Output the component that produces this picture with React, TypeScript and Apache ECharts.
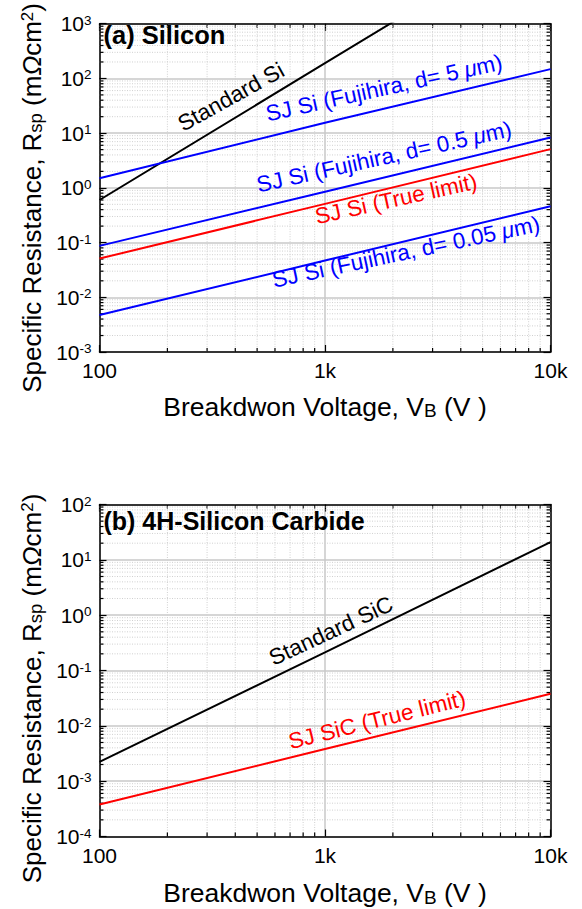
import React, { useEffect, useRef } from 'react';
import * as echarts from 'echarts';

// ---------- data ----------
const voltages = [100, 1000, 10000];
const xTickLabels = ['100', '1k', '10k'];
const yExpTop = ['-3', '-2', '-1', '0', '1', '2', '3'];
const yExpBottom = ['-4', '-3', '-2', '-1', '0', '1', '2'];

// (a) Silicon, R_sp in mΩcm²
const siStandard = [0.6, 190, 60000];
const siFujihira5 = [1.5, 15.5, 148];
const siFujihira05 = [0.087, 0.85, 8.3];
const siTrueLimit = [0.051, 0.51, 5.1];
const siFujihira005 = [0.00475, 0.047, 0.46];

// (b) 4H-SiC, R_sp in mΩcm²
const sicStandard = [0.00224, 0.212, 20.9];
const sicTrueLimit = [0.00038, 0.0038, 0.038];

const minorMultipliers = [2, 3, 4, 5, 6, 7, 8, 9];
const xDecades = [100, 1000];
const yDecadesTop = [1e-3, 1e-2, 1e-1, 1, 10, 100];
const yDecadesBottom = [1e-4, 1e-3, 1e-2, 1e-1, 1, 10];

const FONT = '"Liberation Sans", Arial, Helvetica, sans-serif';
const BLUE = '#0000ff';
const RED = '#ff0000';
const BLACK = '#000000';

const labelsTop = [
  { text: 'Standard Si', x: 231, y: 97, rot: 29, color: BLACK },
  { text: 'SJ Si (Fujihira, d= 5 {i|μ}m)', x: 384, y: 88, rot: 12.5, color: BLUE },
  { text: 'SJ Si (Fujihira, d= 0.5 {i|μ}m)', x: 384, y: 157, rot: 12.5, color: BLUE },
  { text: 'SJ Si (True limit)', x: 396, y: 199, rot: 12.5, color: RED },
  { text: 'SJ Si (Fujihira, d= 0.05 {i|μ}m)', x: 406, y: 252, rot: 12, color: BLUE },
];
const labelsBottom = [
  { text: 'Standard SiC', x: 331, y: 631, rot: 25, color: BLACK },
  { text: 'SJ SiC (True limit)', x: 377, y: 720, rot: 14, color: RED },
];

function pairs(ys: number[]) {
  return voltages.map((v, i) => [v, ys[i]]);
}

function minorList(decades: number[]) {
  const out: number[] = [];
  decades.forEach((d) => minorMultipliers.forEach((m) => out.push(d * m)));
  return out;
}

const GRID_MINOR = '#d0d0d0';

function minorXRender(params: any, api: any) {
  const cs = params.coordSys;
  const p = api.coord([api.value(0), api.value(1)]);
  const x = p[0];
  const yb = cs.y + cs.height;
  return {
    type: 'group',
    children: [
      { type: 'line', shape: { x1: x, y1: cs.y, x2: x, y2: yb }, style: { stroke: GRID_MINOR, lineWidth: 1, lineDash: [1, 1.5] } },
      { type: 'line', shape: { x1: x, y1: yb, x2: x, y2: yb - 4 }, style: { stroke: BLACK, lineWidth: 1.2 } },
      { type: 'line', shape: { x1: x, y1: cs.y, x2: x, y2: cs.y + 4 }, style: { stroke: BLACK, lineWidth: 1.2 } },
    ],
  };
}

function minorYRender(params: any, api: any) {
  const cs = params.coordSys;
  const p = api.coord([api.value(0), api.value(1)]);
  const y = p[1];
  const xr = cs.x + cs.width;
  return {
    type: 'group',
    children: [
      { type: 'line', shape: { x1: cs.x, y1: y, x2: xr, y2: y }, style: { stroke: GRID_MINOR, lineWidth: 1, lineDash: [1, 1.5] } },
      { type: 'line', shape: { x1: cs.x, y1: y, x2: cs.x + 4, y2: y }, style: { stroke: BLACK, lineWidth: 1.2 } },
      { type: 'line', shape: { x1: xr, y1: y, x2: xr - 4, y2: y }, style: { stroke: BLACK, lineWidth: 1.2 } },
    ],
  };
}

function xAxes(gridIndex: number, nameGap: number) {
  const common = {
    gridIndex,
    type: 'log',
    logBase: 10,
    min: 100,
    max: 10000,
    axisLine: { show: true, onZero: false, lineStyle: { color: BLACK, width: 1.5 } },
    axisTick: { show: true, inside: true, length: 7, lineStyle: { color: BLACK, width: 1.2 } },
  };
  return [
    {
      ...common,
      position: 'bottom',
      axisLabel: {
        show: true,
        margin: 8,
        color: BLACK,
        fontSize: 21,
        fontFamily: FONT,
        showMinLabel: true,
        showMaxLabel: true,
        formatter: (v: number, i: number) => xTickLabels[i] ?? String(v),
      },
      splitLine: { show: true, lineStyle: { color: '#c8c8c8', width: 1.5 } },
      name: 'Breakdwon Voltage, V{s|B} (V )',
      nameLocation: 'middle',
      nameGap,
      nameTextStyle: {
        color: BLACK,
        fontSize: 26.5,
        fontFamily: FONT,
        rich: { s: { fontSize: 19, fontFamily: FONT, color: BLACK, verticalAlign: 'bottom' } },
      },
    },
    {
      ...common,
      position: 'top',
      axisLabel: { show: false },
      splitLine: { show: false },
    },
  ];
}

function yAxes(gridIndex: number, min: number, max: number, exps: string[], shift: number) {
  const common = {
    gridIndex,
    type: 'log',
    logBase: 10,
    min,
    max,
    axisLine: { show: true, onZero: false, lineStyle: { color: BLACK, width: 1.5 } },
    axisTick: { show: true, inside: true, length: 7, lineStyle: { color: BLACK, width: 1.2 } },
  };
  return [
    {
      ...common,
      position: 'left',
      axisLabel: {
        show: true,
        margin: 8,
        color: BLACK,
        showMinLabel: true,
        showMaxLabel: true,
        formatter: (v: number, i: number) => `{b|10}{s|${exps[i] ?? Math.round(Math.log10(v))}}`,
        rich: {
          b: { fontSize: 21, fontFamily: FONT, color: BLACK, verticalAlign: 'bottom' },
          s: { fontSize: 13.5, fontFamily: FONT, color: BLACK, verticalAlign: 'top' },
        },
      },
      splitLine: { show: true, lineStyle: { color: '#c8c8c8', width: 1.5 } },
      name: 'Specific Resistance, R{s|sp} (m{o|Ω}cm{u|2})',
      nameLocation: 'middle',
      nameGap: 55,
      nameTextStyle: {
        color: BLACK,
        fontSize: 26,
        fontFamily: FONT,
        padding: [0, shift * 2, 0, 0],
        rich: {
          s: { fontSize: 18.5, fontFamily: FONT, color: BLACK, verticalAlign: 'bottom' },
          o: { fontSize: 26, fontFamily: FONT, color: BLACK, fontStyle: 'italic' },
          u: { fontSize: 17, fontFamily: FONT, color: BLACK, verticalAlign: 'top' },
        },
      },
    },
    {
      ...common,
      position: 'right',
      axisLabel: { show: false },
      splitLine: { show: false },
    },
  ];
}

function lineSeries(xi: number, yi: number, ys: number[], color: string) {
  return {
    type: 'line',
    xAxisIndex: xi,
    yAxisIndex: yi,
    data: pairs(ys),
    symbol: 'none',
    showSymbol: false,
    clip: true,
    silent: true,
    z: 5,
    lineStyle: { color, width: 2 },
  };
}

function labelGraphics(list: typeof labelsTop) {
  return list.map((l) => ({
    type: 'text',
    x: l.x,
    y: l.y,
    rotation: (l.rot * Math.PI) / 180,
    z: 10,
    silent: true,
    style: {
      text: l.text,
      fill: l.color,
      fontSize: 22.5,
      fontFamily: FONT,
      align: 'center',
      verticalAlign: 'middle',
      rich: {
        i: { fontSize: 22.5, fontFamily: FONT, fontStyle: 'italic', fill: l.color },
      },
    },
  }));
}

export default function App() {
  const ref = useRef<HTMLDivElement>(null);
  useEffect(() => {
    if (!ref.current) return;
    const chart = echarts.init(ref.current, null, { renderer: 'svg' });
    const minorX = minorList(xDecades);
    const option: any = {
      animation: false,
      backgroundColor: '#ffffff',
      grid: [
        { left: 99.5, top: 18.5, width: 451, height: 333.5 },
        { left: 99.5, top: 504.5, width: 451, height: 332 },
      ],
      xAxis: [...xAxes(0, 41), ...xAxes(1, 43)],
      yAxis: [...yAxes(0, 1e-3, 1e3, yExpTop, 10), ...yAxes(1, 1e-4, 1e2, yExpBottom, 18)],
      series: [
        { type: 'custom', xAxisIndex: 0, yAxisIndex: 0, data: minorX.map((v) => [v, 1e-3]), renderItem: minorXRender, z: 1, silent: true, clip: false },
        { type: 'custom', xAxisIndex: 0, yAxisIndex: 0, data: minorList(yDecadesTop).map((v) => [100, v]), renderItem: minorYRender, z: 1, silent: true, clip: false },
        { type: 'custom', xAxisIndex: 2, yAxisIndex: 2, data: minorX.map((v) => [v, 1e-4]), renderItem: minorXRender, z: 1, silent: true, clip: false },
        { type: 'custom', xAxisIndex: 2, yAxisIndex: 2, data: minorList(yDecadesBottom).map((v) => [100, v]), renderItem: minorYRender, z: 1, silent: true, clip: false },
        lineSeries(0, 0, siStandard, BLACK),
        lineSeries(0, 0, siFujihira5, BLUE),
        lineSeries(0, 0, siFujihira05, BLUE),
        lineSeries(0, 0, siTrueLimit, RED),
        lineSeries(0, 0, siFujihira005, BLUE),
        lineSeries(2, 2, sicStandard, BLACK),
        lineSeries(2, 2, sicTrueLimit, RED),
      ],
      graphic: [
        {
          type: 'text',
          x: 103.5,
          y: 34.7,
          z: 10,
          style: { text: '(a) Silicon', fontSize: 25.5, fontWeight: 'bold', fontFamily: FONT, fill: BLACK, align: 'left', verticalAlign: 'middle' },
        },
        {
          type: 'text',
          x: 103.5,
          y: 521,
          z: 10,
          style: { text: '(b) 4H-Silicon Carbide', fontSize: 25, fontWeight: 'bold', fontFamily: FONT, fill: BLACK, align: 'left', verticalAlign: 'middle' },
        },
        ...labelGraphics(labelsTop),
        ...labelGraphics(labelsBottom),
      ],
    };
    chart.setOption(option);
    return () => chart.dispose();
  }, []);
  return <div ref={ref} style={{ width: 582, height: 909, position: 'absolute', left: 0, top: 0 }} />;
}
